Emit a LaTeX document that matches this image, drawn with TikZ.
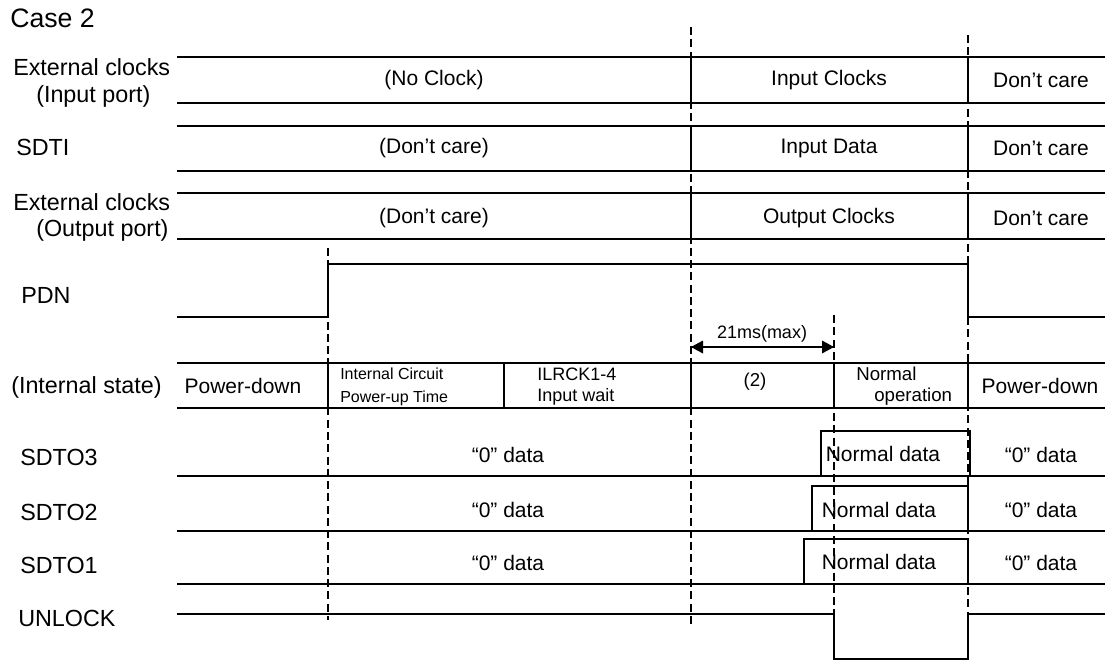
\documentclass[tikz,border=0pt]{standalone}
\usepackage{fontspec}
\setmainfont{Liberation Sans}
\usepackage{tikz}

\begin{document}
\begin{tikzpicture}[x=0.75pt,y=0.75pt,yscale=-1,xscale=1,
  sig/.style={line width=1.1pt},
  cut/.style={line width=2.2pt, dash pattern={on 6pt off 3.2pt}},
  lbl/.style={anchor=west, inner sep=0.75pt, font=\fontsize{17.5}{21}\selectfont},
  txt/.style={inner sep=0.75pt, font=\fontsize{15.75}{19}\selectfont},
  sml/.style={anchor=west, inner sep=0.75pt, font=\fontsize{13.5}{16}\selectfont}]
\useasboundingbox (0,0) rectangle (1108,661);

%Bus rows: External clocks (Input port), SDTI, External clocks (Output port)
\foreach \yt/\yb in {57/103, 126/171, 193/239}{
  \draw [sig] (177,\yt) -- (1105,\yt) ;
  \draw [sig] (177,\yb) -- (1105,\yb) ;
  \draw [sig] (691,\yt) -- (691,\yb) ;
  \draw [sig] (968,\yt) -- (968,\yb) ;
}
%Straight Lines: PDN
\draw [sig] (177,317) -- (328,317) -- (328,264) -- (968,264) -- (968,317) -- (1105,317) ;
%Bus row: internal state
\draw [sig] (177,363) -- (1105,363) ;
\draw [sig] (177,408) -- (1105,408) ;
\foreach \xd in {328, 504, 691, 834, 968}{
  \draw [sig] (\xd,363) -- (\xd,408) ;
}
%Straight Lines: SDTO3, SDTO2, SDTO1
\foreach \yb/\xl/\xr in {476/821/970, 531/812/968, 584/804/968}{
  \draw [sig] (177,\yb) -- (1105,\yb) ;
  \draw [sig] (\xl,\yb) -- (\xl,\yb-45) -- (\xr,\yb-45) -- (\xr,\yb) ;
}
%Straight Lines: UNLOCK
\draw [sig] (177,614) -- (834,614) -- (834,659) -- (968,659) -- (968,614) -- (1105,614) ;

%Dashed time marks
\draw [cut] (328,248) -- (328,620) ;
\draw [cut] (691,27) -- (691,624) ;
\draw [cut] (834,315) -- (834,615) ;
\draw [cut] (968,35) -- (968,615) ;

%Dimension arrow 21ms(max)
\coordinate (tA) at (691,347) ;
\coordinate (tB) at (834,347) ;
\draw [sig] (tA) -- (tB) ;
\draw [shift={(tA)}, rotate = 0] [fill=black][line width=0.08] [draw opacity=0] (12,-6.5) -- (0,0) -- (12,6.5) -- cycle ;
\draw [shift={(tB)}, rotate = 180] [fill=black][line width=0.08] [draw opacity=0] (12,-6.5) -- (0,0) -- (12,6.5) -- cycle ;

% Text Node
\draw (9,18) node [anchor=west, inner sep=0.75pt, font=\fontsize{20}{24}\selectfont] (case) {Case 2};
% Text Node
\draw (12,67) node [lbl] (extin) {External clocks};
\draw (35,96) node [lbl] (inport) {(Input port)};
\draw (15,147) node [lbl] (sdti) {SDTI};
\draw (12,202) node [lbl] (extout) {External clocks};
\draw (35,230) node [lbl] (outport) {(Output port)};
\draw (20,295) node [lbl] (pdn) {PDN};
\draw (10,387) node [lbl] (state) {(Internal state)};
\draw (19,457) node [lbl] (sdtoc) {SDTO3};
\draw (19,512) node [lbl] (sdtob) {SDTO2};
\draw (19,565) node [lbl] (sdtoa) {SDTO1};
\draw (17,618) node [lbl] (unlock) {UNLOCK};
% Text Node
\draw (434,80) node [txt] (noclk) {(No Clock)};
\draw (829,80) node [txt] (inclk) {Input Clocks};
\draw (1041,80) node [txt] (dcA) {Don’t care};
\draw (434,148) node [txt] (dcin) {(Don’t care)};
\draw (829,148) node [txt] (indata) {Input Data};
\draw (1041,148) node [txt] (dcB) {Don’t care};
\draw (434,218) node [txt] (dcout) {(Don’t care)};
\draw (829,218) node [txt] (outclk) {Output Clocks};
\draw (1041,218) node [txt] (dcC) {Don’t care};
% Text Node
\draw (762,334) node [txt, font=\fontsize{13.5}{16}\selectfont] (tmax) {21ms(max)};
% Text Node
\draw (243,386) node [txt] (pdA) {Power-down};
\draw (339,374) node [sml, font=\fontsize{12}{14}\selectfont] (icA) {Internal Circuit};
\draw (339,398) node [sml, font=\fontsize{12}{14}\selectfont] (icB) {Power-up Time};
\draw (536,374) node [sml] (ilA) {ILRCK1-4};
\draw (536,397) node [sml] (ilB) {Input wait};
\draw (755,382) node [txt, font=\fontsize{14}{16}\selectfont] (wait) {(2)};
\draw (855,374) node [sml, font=\fontsize{14}{16}\selectfont] (nopA) {Normal};
\draw (873,397) node [sml, font=\fontsize{14}{16}\selectfont] (nopB) {operation};
\draw (1040,386) node [txt] (pdB) {Power-down};
% Text Node
\foreach \yy/\nm in {455/c, 510/b, 563/a}{
  \draw (508,\yy) node [txt] (zero\nm) {“0” data};
  \draw (1041,\yy) node [txt] (zr\nm) {“0” data};
}
\draw (883,454) node [txt] (ndc) {Normal data};
\draw (879,510) node [txt] (ndb) {Normal data};
\draw (879,562) node [txt] (nda) {Normal data};

\end{tikzpicture}
\end{document}
